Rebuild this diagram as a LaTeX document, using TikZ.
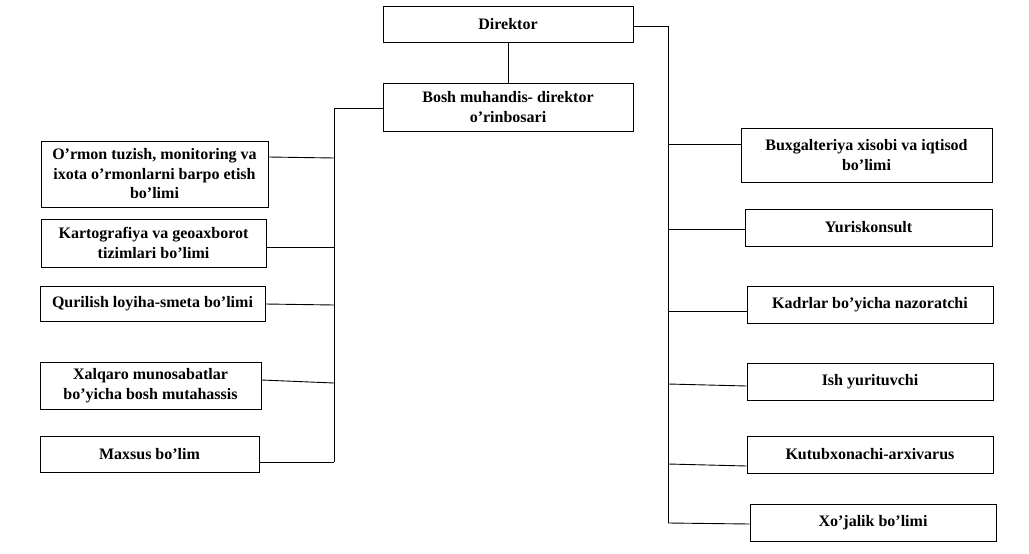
\documentclass[tikz,border=0pt]{standalone}
\usepackage{fontspec}
\setmainfont{Liberation Serif}
\begin{document}
\begin{tikzpicture}[x=1pt,y=-1pt,
  box/.style={draw,line width=1pt,inner sep=0pt,align=center,font=\bfseries\fontsize{16}{19.5}\selectfont},
  conn/.style={line width=0.9pt}]
\useasboundingbox[fill=white] (0,0) rectangle (1029,554);
\newcommand{\orgbox}[6]{% name, x1,y1,x2,y2,text
  \node[box,minimum width={#4-#2},minimum height={#5-#3}] (#1) at ({(#2+#4)/2},{(#3+#5)/2}) {#6};}
\orgbox{dir}{383}{6}{633}{42}{Direktor}
\orgbox{bosh}{383}{83}{633}{131}{Bosh muhandis- direktor\\o’rinbosari}
\orgbox{l1}{41}{141}{268}{207}{O’rmon tuzish, monitoring va\\ixota o’rmonlarni barpo etish\\bo’limi}
\orgbox{l2}{41}{219}{266}{267}{Kartografiya va geoaxborot\\tizimlari bo’limi}
\orgbox{l3}{40}{286}{265}{321}{Qurilish loyiha-smeta bo’limi}
\orgbox{l4}{40}{362}{261}{409}{Xalqaro munosabatlar\\bo’yicha bosh mutahassis}
\orgbox{l5}{40}{436}{259}{472}{Maxsus bo’lim}
\orgbox{r1}{741}{128}{992}{182}{Buxgalteriya xisobi va iqtisod\\bo’limi}
\orgbox{r2}{745}{209}{992}{246}{Yuriskonsult}
\orgbox{r3}{747}{286}{993}{323}{Kadrlar bo’yicha nazoratchi}
\orgbox{r4}{747}{363}{993}{400}{Ish yurituvchi}
\orgbox{r5}{747}{436}{993}{473}{Kutubxonachi-arxivarus}
\orgbox{r6}{750}{504}{996}{541}{Xo’jalik bo’limi}
% trunk coordinates
\coordinate (ltop) at (334,108);
\coordinate (lbot) at (334,462);
\coordinate (rtop) at (668,26);
\coordinate (rbot) at (668,523);
% connectors
\draw[conn] (dir.south) -- (bosh.north);
\draw[conn] (bosh.west |- ltop) -- (ltop) -- (lbot);
\draw[conn] (dir.east |- rtop) -- (rtop) -- (rbot);
\draw[conn] (l1.east |- {(0,157)}) -- (ltop |- {(0,158)});
\draw[conn] (l2.east |- {(0,247)}) -- (ltop |- {(0,247)});
\draw[conn] (l3.east |- {(0,304)}) -- (ltop |- {(0,305)});
\draw[conn] (l4.east |- {(0,380)}) -- (ltop |- {(0,383)});
\draw[conn] (l5.east |- lbot) -- (lbot);
\draw[conn] (r1.west |- {(0,144)}) -- (rtop |- {(0,144)});
\draw[conn] (r2.west |- {(0,229)}) -- (rtop |- {(0,229)});
\draw[conn] (r3.west |- {(0,311)}) -- (rtop |- {(0,311)});
\draw[conn] (r4.west |- {(0,386)}) -- (rtop |- {(0,384)});
\draw[conn] (r5.west |- {(0,466)}) -- (rtop |- {(0,464)});
\draw[conn] (r6.west |- {(0,524)}) -- (rbot);
\end{tikzpicture}
\end{document}
